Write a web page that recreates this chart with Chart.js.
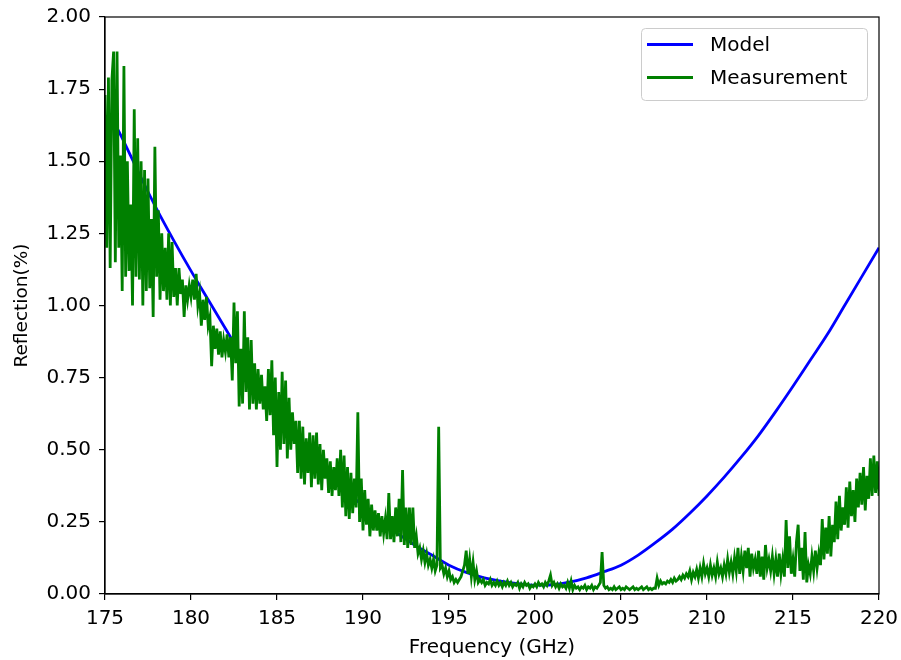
<!DOCTYPE html>
<html>
<head>
<meta charset="utf-8">
<script src="https://cdn.jsdelivr.net/npm/chart.js@4.4.1/dist/chart.umd.min.js"></script>
<style>
  html, body { margin: 0; padding: 0; background: #fff; }
  #wrap { width: 901px; height: 660px; }
</style>
</head>
<body>
<div id="wrap"><canvas id="chartReflection" width="901" height="660"></canvas></div>
<script>
// model curve (GHz, %)
const modelFreq = [175.75, 176, 177, 178, 179, 180, 181, 182, 183, 184, 185, 186, 187, 188, 189, 190,
  191, 192, 193, 194, 195, 196, 197, 198, 199, 200, 201, 202, 203, 204, 205, 206, 207, 208, 209, 210,
  211, 212, 213, 214, 215, 216, 217, 218, 219, 220]
const modelValues = [1.61, 1.58, 1.455, 1.335, 1.225, 1.12, 1.02, 0.92, 0.82, 0.725, 0.635, 0.555, 0.485, 0.42, 0.36, 0.305,
  0.255, 0.21, 0.17, 0.135, 0.10, 0.075, 0.057, 0.045, 0.036, 0.031, 0.032, 0.041, 0.056, 0.077, 0.10, 0.135, 0.178, 0.225, 0.28, 0.34,
  0.405, 0.475, 0.55, 0.633, 0.72, 0.81, 0.90, 1.00, 1.10, 1.20]

// measurement, one value every 0.1 GHz from 175 GHz
const measStart = 175
const measStep = 0.1
const measValues = [
  1.73, 1.20, 1.79, 1.13, 1.78, 1.88, 1.15, 1.88, 1.20, 1.52,   // 175
  1.05, 1.83, 1.10, 1.50, 1.12, 1.35, 1.00, 1.68, 1.10, 1.58,   // 176
  1.09, 1.50, 1.00, 1.47, 1.05, 1.44, 1.06, 1.30, 0.96, 1.55,   // 177
  1.10, 1.33, 1.02, 1.25, 1.05, 1.20, 1.02, 1.25, 1.00, 1.22,   // 178
  1.03, 1.13, 1.00, 1.13, 1.04, 1.09, 0.96, 1.07, 1.02, 1.07,   // 179
  1.03, 1.09, 1.02, 1.11, 1.00, 1.04, 0.93, 1.02, 0.95, 1.03,   // 180
  0.93, 0.96, 0.79, 0.93, 0.85, 0.92, 0.83, 0.91, 0.82, 0.88,   // 181
  0.84, 0.90, 0.82, 0.89, 0.74, 1.01, 0.80, 0.98, 0.65, 0.85,   // 182
  0.66, 0.98, 0.70, 0.89, 0.64, 0.88, 0.66, 0.80, 0.64, 0.78,   // 183
  0.66, 0.76, 0.64, 0.72, 0.60, 0.78, 0.62, 0.81, 0.55, 0.75,   // 184
  0.44, 0.70, 0.50, 0.77, 0.52, 0.74, 0.47, 0.68, 0.50, 0.63,   // 185
  0.52, 0.60, 0.42, 0.60, 0.40, 0.58, 0.38, 0.54, 0.42, 0.56,   // 186
  0.37, 0.55, 0.40, 0.56, 0.38, 0.52, 0.36, 0.50, 0.40, 0.47,   // 187
  0.35, 0.46, 0.34, 0.44, 0.36, 0.47, 0.34, 0.50, 0.30, 0.48,   // 188
  0.27, 0.44, 0.26, 0.42, 0.28, 0.40, 0.30, 0.63, 0.25, 0.40,   // 189
  0.22, 0.36, 0.24, 0.33, 0.20, 0.31, 0.22, 0.29, 0.22, 0.28,   // 190
  0.20, 0.27, 0.21, 0.26, 0.19, 0.35, 0.19, 0.27, 0.18, 0.30,   // 191
  0.20, 0.33, 0.18, 0.43, 0.17, 0.30, 0.16, 0.30, 0.17, 0.30,   // 192
  0.16, 0.20, 0.14, 0.16, 0.12, 0.15, 0.11, 0.14, 0.10, 0.12,   // 193
  0.09, 0.12, 0.08, 0.10, 0.58, 0.09, 0.10, 0.07, 0.09, 0.06,   // 194
  0.08, 0.05, 0.06, 0.04, 0.05, 0.04, 0.05, 0.06, 0.08, 0.10,   // 195
  0.15, 0.07, 0.12, 0.06, 0.11, 0.05, 0.08, 0.04, 0.05, 0.04,   // 196
  0.05, 0.03, 0.04, 0.035, 0.05, 0.03, 0.04, 0.03, 0.045, 0.03, // 197
  0.04, 0.025, 0.04, 0.03, 0.045, 0.03, 0.04, 0.025, 0.035, 0.03, // 198
  0.04, 0.02, 0.035, 0.025, 0.04, 0.03, 0.035, 0.02, 0.03, 0.025, // 199
  0.035, 0.025, 0.04, 0.03, 0.035, 0.025, 0.04, 0.03, 0.045, 0.065, // 200
  0.03, 0.04, 0.025, 0.035, 0.02, 0.035, 0.025, 0.03, 0.02, 0.04, // 201
  0.02, 0.045, 0.015, 0.03, 0.02, 0.025, 0.015, 0.025, 0.02, 0.03, // 202
  0.015, 0.025, 0.02, 0.03, 0.015, 0.025, 0.02, 0.03, 0.04, 0.145, // 203
  0.03, 0.02, 0.025, 0.015, 0.02, 0.015, 0.025, 0.015, 0.02, 0.025, // 204
  0.015, 0.02, 0.015, 0.025, 0.02, 0.015, 0.02, 0.025, 0.015, 0.02, // 205
  0.015, 0.02, 0.025, 0.015, 0.02, 0.025, 0.015, 0.02, 0.015, 0.02, // 206
  0.02, 0.055, 0.03, 0.045, 0.035, 0.04, 0.035, 0.045, 0.04, 0.05, // 207
  0.04, 0.055, 0.045, 0.05, 0.06, 0.05, 0.065, 0.055, 0.07, 0.06, // 208
  0.08, 0.05, 0.075, 0.06, 0.085, 0.055, 0.09, 0.06, 0.105, 0.07, // 209
  0.09, 0.06, 0.10, 0.065, 0.09, 0.06, 0.11, 0.07, 0.09, 0.06,   // 210
  0.10, 0.07, 0.12, 0.075, 0.11, 0.07, 0.125, 0.08, 0.16, 0.07,  // 211
  0.13, 0.08, 0.15, 0.09, 0.16, 0.06, 0.14, 0.09, 0.12, 0.07,   // 212
  0.15, 0.06, 0.13, 0.05, 0.17, 0.09, 0.12, 0.08, 0.13, 0.07,   // 213
  0.12, 0.06, 0.14, 0.07, 0.12, 0.06, 0.256, 0.09, 0.20, 0.07,  // 214
  0.12, 0.06, 0.18, 0.24, 0.08, 0.16, 0.05, 0.215, 0.04, 0.10,  // 215
  0.07, 0.13, 0.08, 0.15, 0.09, 0.14, 0.10, 0.26, 0.12, 0.23,   // 216
  0.14, 0.27, 0.13, 0.24, 0.18, 0.32, 0.19, 0.34, 0.22, 0.30,   // 217
  0.24, 0.37, 0.23, 0.39, 0.27, 0.36, 0.25, 0.40, 0.30, 0.42,   // 218
  0.31, 0.44, 0.29, 0.41, 0.33, 0.47, 0.34, 0.48, 0.35, 0.46,   // 219
  0.34                                                          // 220
]

const xTicks = [175, 180, 185, 190, 195, 200, 205, 210, 215, 220]
const yTicks = [0, 0.25, 0.5, 0.75, 1.0, 1.25, 1.5, 1.75, 2.0]

const canvas = document.getElementById('chartReflection')
const context = canvas.getContext('2d')

Chart.defaults.font.family = '"DejaVu Sans", sans-serif'
Chart.defaults.font.size = 20
Chart.defaults.color = '#000'

// top and right spines
const marco = {
  id: 'marco',
  afterDraw(chart) {
    const { ctx, chartArea } = chart
    ctx.save()
    ctx.strokeStyle = '#000'
    ctx.lineWidth = 1.2
    ctx.strokeRect(chartArea.left, chartArea.top, chartArea.right - chartArea.left, chartArea.bottom - chartArea.top)
    ctx.restore()
  }
}

// matplotlib-like legend in the upper right corner
const leyenda = {
  id: 'leyenda',
  afterDraw(chart) {
    const { ctx, chartArea } = chart
    const x = chartArea.right - 238
    const y = chartArea.top + 11
    ctx.save()
    ctx.beginPath()
    ctx.roundRect(x + 0.5, y + 0.5, 226, 72, 4)
    ctx.fillStyle = 'rgba(255,255,255,0.8)'
    ctx.fill()
    ctx.strokeStyle = '#cccccc'
    ctx.lineWidth = 1
    ctx.stroke()
    ctx.font = '20px "DejaVu Sans"'
    ctx.textBaseline = 'middle'
    chart.data.datasets.forEach((ds, i) => {
      const ly = y + 16.5 + i * 33
      ctx.beginPath()
      ctx.moveTo(x + 6, ly)
      ctx.lineTo(x + 52, ly)
      ctx.strokeStyle = ds.borderColor
      ctx.lineWidth = ds.borderWidth
      ctx.stroke()
      ctx.fillStyle = '#000'
      ctx.fillText(ds.label, x + 69, ly + 1)
    })
    ctx.restore()
  }
}

const chartReflection = new Chart(context, {
  type: 'line',
  data: {
    datasets: [
      {
        label: 'Model',
        data: modelFreq.map((f, i) => ({ x: f, y: modelValues[i] })),
        borderColor: '#0000ff',
        backgroundColor: '#0000ff',
        borderWidth: 2.8,
        pointRadius: 0,
        cubicInterpolationMode: 'monotone',
        order: 1
      },
      {
        label: 'Measurement',
        data: measValues.map((v, i) => ({ x: measStart + i * measStep, y: v })),
        borderColor: '#008000',
        backgroundColor: '#008000',
        borderWidth: 2.8,
        pointRadius: 0,
        tension: 0,
        order: 0
      }
    ]
  },
  options: {
    responsive: false,
    animation: false,
    devicePixelRatio: 1,
    layout: { padding: { left: 0, right: 22, top: 17, bottom: 0 } },
    plugins: {
      legend: { display: false },
      tooltip: { enabled: false }
    },
    scales: {
      x: {
        type: 'linear',
        min: 175,
        max: 220,
        afterBuildTicks: s => { s.ticks = xTicks.map(v => ({ value: v })) },
        afterFit: s => { s.height = 66; s.paddingLeft = 0; s.paddingRight = 0 },
        ticks: { autoSkip: false, maxRotation: 0, padding: 7, color: '#000' },
        grid: { drawOnChartArea: false, drawTicks: true, tickLength: 6, color: '#000', lineWidth: 1.2 },
        border: { display: true, color: '#000', width: 1.2 },
        title: { display: true, text: 'Frequency (GHz)', color: '#000', font: { size: 20 }, padding: { top: 0, bottom: 0 } }
      },
      y: {
        min: 0,
        max: 2,
        afterBuildTicks: s => { s.ticks = yTicks.map(v => ({ value: v })) },
        afterFit: s => { s.width = 105; s.paddingTop = 0; s.paddingBottom = 0 },
        ticks: { callback: v => v.toFixed(2), padding: 8, color: '#000' },
        grid: { drawOnChartArea: false, drawTicks: true, tickLength: 6, color: '#000', lineWidth: 1.2 },
        border: { display: true, color: '#000', width: 1.2 },
        title: { display: true, text: 'Reflection(%)', color: '#000', font: { size: 18.5 }, padding: { top: 11, bottom: 0 } }
      }
    }
  },
  plugins: [marco, leyenda]
})
</script>
</body>
</html>
